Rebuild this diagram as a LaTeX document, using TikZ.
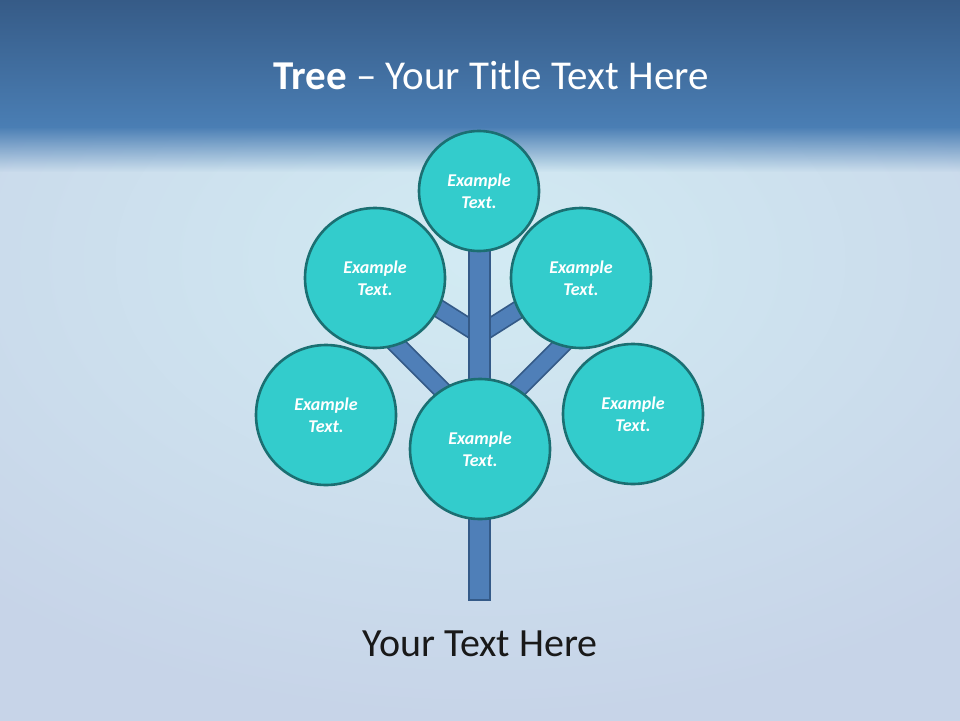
\documentclass[tikz,border=0pt]{standalone}
\usepackage{fontspec}
\usetikzlibrary{fadings}
\setmainfont{Carlito}
\definecolor{bandtop}{HTML}{365B87}
\definecolor{bandbot}{HTML}{4A7EB4}
\definecolor{bgedge}{HTML}{C7D4E8}
\definecolor{bgcenter}{HTML}{D2EBF3}
\definecolor{leaffill}{HTML}{33CCCC}
\definecolor{leafline}{HTML}{1B6F72}
\definecolor{woodfill}{HTML}{4F7FB8}
\definecolor{woodline}{HTML}{345A88}
\tikzset{
  leaf/.style={circle, draw=leafline, line width=2.6pt, fill=leaffill, inner sep=0pt,
    minimum size=#1, text=white, align=center,
    font=\fontsize{18}{22.5}\selectfont\bfseries\itshape},
  branch/.style={line width=19pt, draw=woodline, line cap=butt},
  branchin/.style={line width=15.5pt, draw=woodfill, line cap=butt},
  trunkbox/.style={draw=woodline, fill=woodfill, line width=1.8pt},
}
\begin{document}
\begin{tikzpicture}[x=1pt,y=-1pt]
\useasboundingbox (0,0) rectangle (960,720);
% background
\begin{scope}
\clip (0,0) rectangle (960,720);
\shade[inner color=bgcenter, outer color=bgedge] (-250,-200) rectangle (1210,720);
\shade[top color=bandtop, bottom color=bandbot] (0,0) rectangle (960,127);
\fill[bandbot, path fading=south] (-40,126.5) rectangle (1000,172);
\end{scope}
% title
\node (title) at (491,75) [text=white, font=\fontsize{41}{46}\selectfont] {\textbf{Tree} -- Your Title Text Here};
% coordinates for branches
\coordinate (jl1) at (479,334);
\coordinate (el1) at (430,303);
\coordinate (jr1) at (480,334);
\coordinate (er1) at (529,303);
\coordinate (jl2) at (479,427);
\coordinate (el2) at (392,340);
\coordinate (jr2) at (480,427);
\coordinate (er2) at (567,340);
% branches
\foreach \a/\b in {jl1/el1, jr1/er1, jl2/el2, jr2/er2}{
  \draw[branch] (\a) -- (\b);
  \draw[branchin] (\a) -- (\b);
}
% trunk
\coordinate (ttop) at (469,245);
\coordinate (tbot) at (490,600);
\draw[trunkbox] (ttop) rectangle (tbot);
% leaves
\node[leaf=120pt] (top) at (479,191) {Example\\Text.};
\node[leaf=140pt] (ul) at (375,278) {Example\\Text.};
\node[leaf=140pt] (ur) at (581,278) {Example\\Text.};
\node[leaf=140pt] (ll) at (326,415) {Example\\Text.};
\node[leaf=140pt] (lc) at (480,449) {Example\\Text.};
\node[leaf=140pt] (lr) at (633,414) {Example\\Text.};
% bottom text
\node (caption) at (480,644) [text=black!90, font=\fontsize{40}{44}\selectfont] {Your Text Here};
\end{tikzpicture}
\end{document}
